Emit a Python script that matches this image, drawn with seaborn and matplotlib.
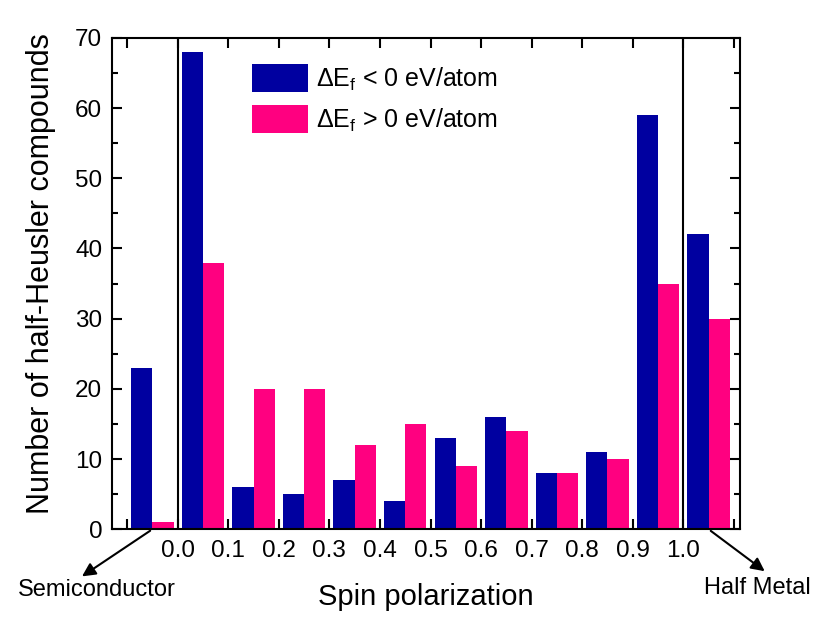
import pandas as pd
import matplotlib.pyplot as plt
import seaborn as sns
from matplotlib.ticker import MultipleLocator

# bin centres (left of 0 = semiconductor, right of 1 = half metal)
bins = [-0.05, 0.05, 0.15, 0.25, 0.35, 0.45, 0.55, 0.65, 0.75, 0.85, 0.95, 1.05]
stable = [23, 68, 6, 5, 7, 4, 13, 16, 8, 11, 59, 42]
unstable = [1, 38, 20, 20, 12, 15, 9, 14, 8, 10, 35, 30]
labels = [r'$\Delta$E$_\mathrm{f}$ < 0 eV/atom', r'$\Delta$E$_\mathrm{f}$ > 0 eV/atom']
tick_vals = [0.0, 0.1, 0.2, 0.3, 0.4, 0.5, 0.6, 0.7, 0.8, 0.9, 1.0]

data = pd.DataFrame({
    'spin': bins + bins,
    'count': stable + unstable,
    'group': [labels[0]] * len(bins) + [labels[1]] * len(bins),
})

sns.set_style('ticks')
plt.rcParams['font.family'] = ['Liberation Sans', 'DejaVu Sans']
plt.rcParams['mathtext.fontset'] = 'custom'
plt.rcParams['mathtext.rm'] = 'Liberation Sans'
plt.rcParams['mathtext.it'] = 'Liberation Sans:italic'
for k in ['text.color', 'axes.labelcolor', 'xtick.color', 'ytick.color', 'axes.edgecolor']:
    plt.rcParams[k] = 'black'

fig = plt.figure(figsize=(8.3, 6.33), dpi=100)
ax = fig.add_axes([0.135, 0.164, 0.757, 0.776])

sns.barplot(data=data, x='spin', y='count', hue='group', native_scale=True,
            palette=['#0000A0', '#FF0080'], saturation=1, width=0.84,
            edgecolor='none', ax=ax)

ax.axvline(0.0, color='black', lw=1.5)
ax.axvline(1.0, color='black', lw=1.5)

ax.set_xlim(-0.13, 1.113)
ax.set_ylim(0, 70)
ax.set_xticks([-0.1] + tick_vals + [1.1])
ax.set_xticklabels([''] + [f'{v:.1f}' for v in tick_vals] + [''])
ax.yaxis.set_major_locator(MultipleLocator(10))
ax.yaxis.set_minor_locator(MultipleLocator(5))
ax.tick_params(which='both', direction='in', top=True, right=True, width=1.5)
ax.tick_params(which='major', length=7, labelsize=17.5)
ax.tick_params(axis='x', which='major', pad=8)
ax.tick_params(axis='y', which='major', pad=7)
ax.tick_params(which='minor', length=4)
for s in ax.spines.values():
    s.set_linewidth(1.5)

ax.set_xlabel('Spin polarization', fontsize=21, labelpad=15)
ax.set_ylabel('Number of half-Heusler compounds', fontsize=22)
ax.yaxis.set_label_coords(-0.09, 0.52)

ax.legend(loc='upper left', bbox_to_anchor=(0.223, 0.947), frameon=False,
          fontsize=18, handlelength=2.24, handleheight=1.35, labelspacing=0.5,
          handletextpad=0.32, borderpad=0, borderaxespad=0, title=None)

ax.annotate('', xy=(0.096, 0.087), xycoords='figure fraction',
            xytext=(-0.05, 0), textcoords='data',
            arrowprops=dict(arrowstyle='-|>', color='black', lw=1.5,
                            mutation_scale=20), annotation_clip=False)
ax.annotate('', xy=(0.924, 0.095), xycoords='figure fraction',
            xytext=(1.05, 0), textcoords='data',
            arrowprops=dict(arrowstyle='-|>', color='black', lw=1.5,
                            mutation_scale=20), annotation_clip=False)
fig.text(0.117, 0.068, 'Semiconductor', fontsize=17, ha='center', va='center')
fig.text(0.912, 0.071, 'Half Metal', fontsize=17, ha='center', va='center')

fig.savefig('out.png', dpi=100)
